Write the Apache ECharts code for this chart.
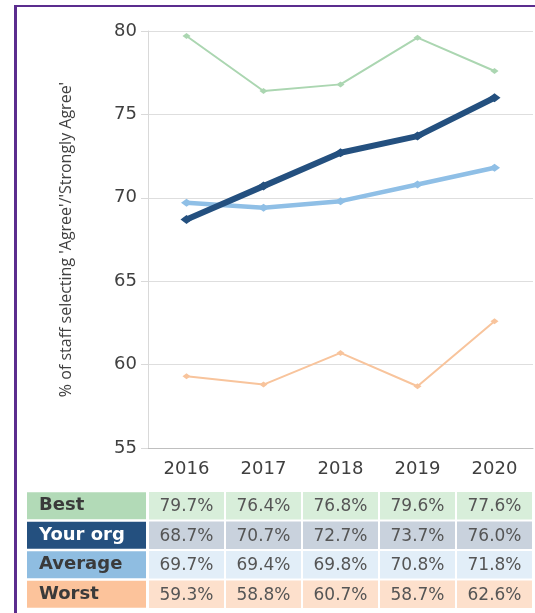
<!DOCTYPE html>
<html lang="en">
<head>
<meta charset="UTF-8">
<title>Staff survey trend</title>
<script src="https://cdn.jsdelivr.net/npm/echarts@6/dist/echarts.min.js"></script>
<style>
  html, body { margin: 0; padding: 0; background: #fff; }
  #wrap { position: relative; width: 535px; height: 613px; }
  #frame { position: absolute; left: 14px; top: 5px; width: 530px; height: 620px;
           border-top: 2px solid #5b2d8e; border-left: 3px solid #5b2d8e; }
  #main { position: absolute; left: 0; top: 0; width: 535px; height: 613px; }
</style>
</head>
<body>
<div id="wrap">
  <div id="frame"></div>
  <div id="main"></div>
</div>
<script type="text/javascript">
    // data
    var years = ['2016', '2017', '2018', '2019', '2020'];
    var rowNames = ['Best', 'Your org', 'Average', 'Worst'];
    var best = [79.7, 76.4, 76.8, 79.6, 77.6];
    var yourOrg = [68.7, 70.7, 72.7, 73.7, 76.0];
    var average = [69.7, 69.4, 69.8, 70.8, 71.8];
    var worst = [59.3, 58.8, 60.7, 58.7, 62.6];

    var lineColors = ['#abd6b1', '#24507f', '#8fbfe6', '#f8c49c'];
    var lineWidths = [2, 6, 4.5, 2];
    var symbolSizes = [[8, 6], [12, 9], [11, 8], [8, 6]];
    var labelBg = ['#b2dab7', '#24507f', '#8fbde1', '#fcc39b'];
    var labelFg = ['#3a3a3a', '#fff', '#3a3a3a', '#3a3a3a'];
    var cellBg = ['#d8eeda', '#c9d2dd', '#e2eef8', '#fde0cc'];

    var allRows = [best, yourOrg, average, worst];
    var keys = ['best', 'org', 'avg', 'worst'];

    var myChart = echarts.init(document.getElementById('main'));

    var series = [];
    for (var i = 0; i < allRows.length; i++) {
        series.push({
            name: rowNames[i],
            type: 'line',
            xAxisIndex: 0,
            yAxisIndex: 0,
            data: allRows[i],
            symbol: 'diamond',
            symbolSize: symbolSizes[i],
            lineStyle: { color: lineColors[i], width: lineWidths[i] },
            itemStyle: { color: lineColors[i] },
            z: i === 1 ? 5 : 3,
            animation: false
        });
    }

    // table cells
    var cells = [];
    for (var r = 0; r < allRows.length; r++) {
        for (var c = 0; c < years.length; c++) {
            cells.push([c, r, allRows[r][c]]);
        }
    }
    series.push({
        type: 'custom',
        xAxisIndex: 1,
        yAxisIndex: 1,
        data: cells,
        animation: false,
        renderItem: function (params, api) {
            var p = api.coord([api.value(0), api.value(1)]);
            var s = api.size([1, 1]);
            var row = api.value(1);
            return {
                type: 'group',
                children: [{
                    type: 'rect',
                    shape: { x: p[0] - s[0] / 2 + 1, y: p[1] - s[1] / 2 + 1, width: s[0] - 2, height: s[1] - 2 },
                    style: { fill: cellBg[row] }
                }, {
                    type: 'text',
                    x: p[0], y: p[1] + 1,
                    style: {
                        text: api.value(2).toFixed(1) + '%',
                        fill: '#555',
                        fontFamily: 'DejaVu Sans',
                        fontSize: 17,
                        align: 'center',
                        verticalAlign: 'middle'
                    }
                }]
            };
        }
    });

    var rich = {};
    for (var k = 0; k < keys.length; k++) {
        rich[keys[k]] = {
            backgroundColor: labelBg[k],
            color: labelFg[k],
            fontFamily: 'DejaVu Sans',
            fontWeight: 'bold',
            fontSize: 18,
            width: 107,
            height: 27,
            lineHeight: 27,
            padding: [0, 0, 0, 12],
            align: 'left'
        };
    }

    var option = {
        animation: false,
        grid: [
            { left: 148, right: 2, top: 31, bottom: 165 },
            { left: 148, right: 2, top: 491, height: 118 }
        ],
        xAxis: [{
            gridIndex: 0,
            type: 'category',
            data: years,
            axisLine: { lineStyle: { color: '#bfbfbf' } },
            axisTick: { show: false },
            axisLabel: { color: '#404040', fontSize: 18, fontFamily: 'DejaVu Sans', margin: 12 }
        }, {
            gridIndex: 1,
            type: 'category',
            data: years,
            show: false
        }],
        yAxis: [{
            gridIndex: 0,
            type: 'value',
            min: 55,
            max: 80,
            interval: 5,
            name: "% of staff selecting 'Agree'/'Strongly Agree'",
            nameLocation: 'middle',
            nameGap: 74,
            nameTextStyle: { color: '#404040', fontSize: 16, fontFamily: 'Open Sans' },
            axisLine: { show: true, lineStyle: { color: '#d9d9d9' } },
            axisTick: { show: true, length: 7, lineStyle: { color: '#d9d9d9' } },
            axisLabel: { color: '#404040', fontSize: 18, fontFamily: 'DejaVu Sans', margin: 11 },
            splitLine: { lineStyle: { color: '#dedede' } }
        }, {
            gridIndex: 1,
            type: 'category',
            data: rowNames,
            inverse: true,
            axisLine: { show: false },
            axisTick: { show: false },
            splitLine: { show: false },
            axisLabel: {
                margin: 2,
                formatter: function (v, idx) {
                    return '{' + keys[idx] + '|' + v + '}';
                },
                rich: rich
            }
        }],
        series: series
    };

    myChart.setOption(option);
</script>
</body>
</html>
